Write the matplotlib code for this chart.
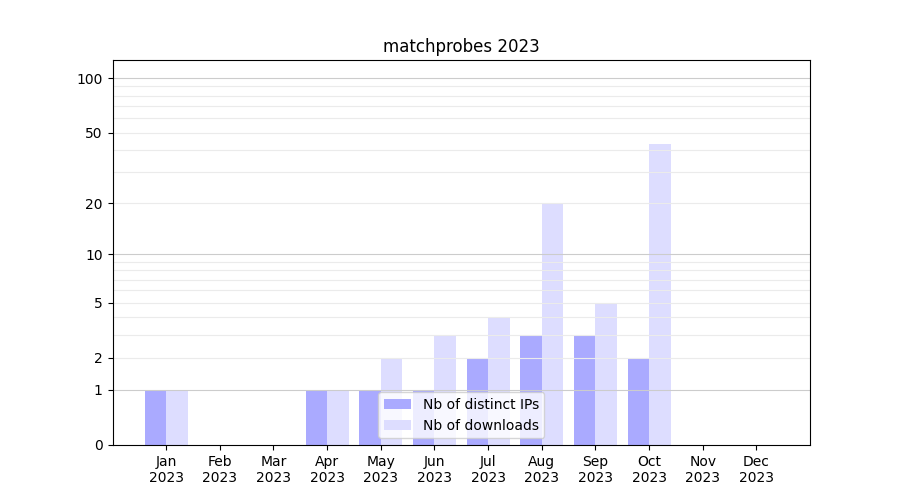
import numpy as np
import matplotlib
matplotlib.use("Agg")
import matplotlib.pyplot as plt
from matplotlib.ticker import FixedLocator, NullLocator

months = ["Jan\n2023", "Feb\n2023", "Mar\n2023", "Apr\n2023", "May\n2023", "Jun\n2023",
          "Jul\n2023", "Aug\n2023", "Sep\n2023", "Oct\n2023", "Nov\n2023", "Dec\n2023"]
distinct_ips = [1, 0, 0, 1, 1, 1, 2, 3, 3, 2, 0, 0]
downloads = [1, 0, 0, 1, 2, 3, 4, 20, 5, 43, 0, 0]
major_ticks = [0, 1, 2, 5, 10, 20, 50, 100]
decade_lines = [1, 10, 100]
light_lines = [2, 3, 4, 5, 6, 7, 8, 9, 20, 30, 40, 50, 60, 70, 80, 90]

fig, ax = plt.subplots(figsize=(9, 5), dpi=100)
ax.set_yscale('function', functions=(lambda v: np.log10(1 + np.clip(v, 0, None)),
                                     lambda v: 10 ** v - 1))
x = np.arange(len(months))
ax.bar(x - 0.2, distinct_ips, width=0.4, color='#aaaaff', label='Nb of distinct IPs', zorder=2)
ax.bar(x + 0.2, downloads, width=0.4, color='#ddddff', label='Nb of downloads', zorder=2)

ax.yaxis.set_major_locator(FixedLocator(major_ticks))
ax.set_yticklabels([str(t) for t in major_ticks])
ax.yaxis.set_minor_locator(NullLocator())
for v in light_lines:
    ax.axhline(v, color='#ebebeb', linewidth=0.8, zorder=3)
for v in decade_lines:
    ax.axhline(v, color='#cccccc', linewidth=0.8, zorder=3)
for s in ax.spines.values():
    s.set_zorder(5)

ax.set_xticks(x)
ax.set_xticklabels(months)
ax.set_xlim(-1, 12)
ax.set_ylim(0, 126)
ax.set_title('matchprobes 2023')
leg = ax.legend(loc='lower center')
leg.set_zorder(6)

fig.savefig('out.png', dpi=100)
